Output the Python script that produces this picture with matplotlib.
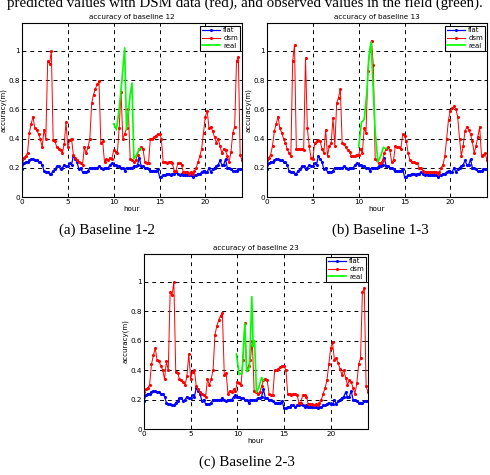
import numpy as np
import matplotlib.pyplot as plt

# time axis (hours), one sample every 0.2 h
hours = np.round(np.arange(121) * 0.2, 1)

# flat model prediction (same for all baselines)
flat = [0.19, 0.23, 0.24, 0.24, 0.25, 0.26, 0.26, 0.25, 0.25, 0.24,
        0.24, 0.22, 0.18, 0.17, 0.17, 0.16, 0.16, 0.18, 0.19, 0.21,
        0.21, 0.19, 0.20, 0.22, 0.21, 0.21, 0.23, 0.22, 0.28, 0.26,
        0.24, 0.19, 0.20, 0.17, 0.17, 0.17, 0.18, 0.20, 0.20, 0.20,
        0.20, 0.20, 0.21, 0.20, 0.19, 0.20, 0.20, 0.20, 0.22, 0.23,
        0.22, 0.22, 0.21, 0.21, 0.20, 0.20, 0.18, 0.20, 0.20, 0.20,
        0.20, 0.21, 0.21, 0.22, 0.27, 0.21, 0.21, 0.20, 0.20, 0.19,
        0.18, 0.18, 0.18, 0.18, 0.19, 0.14, 0.14, 0.15, 0.15, 0.16,
        0.16, 0.15, 0.16, 0.16, 0.17, 0.16, 0.15, 0.16, 0.15, 0.15,
        0.15, 0.15, 0.15, 0.14, 0.15, 0.15, 0.16, 0.16, 0.17, 0.18,
        0.17, 0.17, 0.20, 0.17, 0.19, 0.20, 0.21, 0.22, 0.25, 0.22,
        0.22, 0.26, 0.20, 0.20, 0.19, 0.18, 0.18, 0.18, 0.19, 0.19,
        0.19]

# DSM prediction, baselines 12 and 23
dsm_12 = [0.25, 0.27, 0.28, 0.30, 0.44, 0.50, 0.55, 0.47, 0.46, 0.43,
          0.40, 0.34, 0.46, 0.40, 0.93, 0.91, 1.00, 0.39, 0.38, 0.34,
          0.33, 0.32, 0.30, 0.36, 0.51, 0.34, 0.39, 0.40, 0.29, 0.27,
          0.25, 0.24, 0.23, 0.22, 0.34, 0.30, 0.34, 0.40, 0.64, 0.70,
          0.74, 0.77, 0.79, 0.37, 0.38, 0.24, 0.26, 0.25, 0.27, 0.26,
          0.32, 0.31, 0.30, 0.47, 0.72, 0.40, 0.43, 0.47, 0.60, 0.26,
          0.25, 0.24, 0.25, 0.29, 0.33, 0.34, 0.33, 0.24, 0.23, 0.23,
          0.40, 0.40, 0.41, 0.42, 0.43, 0.43, 0.40, 0.24, 0.24, 0.23,
          0.24, 0.24, 0.23, 0.18, 0.18, 0.23, 0.23, 0.22, 0.17, 0.17,
          0.17, 0.16, 0.17, 0.16, 0.18, 0.20, 0.24, 0.28, 0.33, 0.44,
          0.55, 0.59, 0.47, 0.48, 0.45, 0.41, 0.37, 0.40, 0.35, 0.30,
          0.33, 0.32, 0.28, 0.24, 0.31, 0.44, 0.48, 0.93, 0.96, 0.29,
          0.25]
dsm_23 = dsm_12

# DSM prediction, baseline 13
dsm_13 = [0.25, 0.27, 0.29, 0.35, 0.45, 0.50, 0.55, 0.47, 0.44, 0.40,
          0.37, 0.33, 0.30, 0.28, 0.93, 1.04, 0.33, 0.33, 0.33, 0.33,
          0.32, 0.95, 0.47, 0.35, 0.27, 0.26, 0.37, 0.38, 0.39, 0.38,
          0.33, 0.30, 0.46, 0.28, 0.35, 0.37, 0.54, 0.35, 0.64, 0.68,
          0.74, 0.37, 0.36, 0.34, 0.32, 0.31, 0.28, 0.28, 0.28, 0.29,
          0.29, 0.33, 0.30, 0.47, 0.44, 0.86, 1.00, 1.07, 0.90, 0.26,
          0.25, 0.23, 0.23, 0.25, 0.30, 0.33, 0.34, 0.32, 0.24, 0.25,
          0.35, 0.34, 0.34, 0.33, 0.43, 0.42, 0.38, 0.30, 0.25, 0.24,
          0.24, 0.23, 0.23, 0.20, 0.20, 0.18, 0.17, 0.17, 0.17, 0.17,
          0.17, 0.17, 0.17, 0.16, 0.17, 0.20, 0.22, 0.28, 0.40, 0.53,
          0.59, 0.61, 0.62, 0.60, 0.55, 0.40, 0.28, 0.35, 0.45, 0.48,
          0.46, 0.43, 0.38, 0.30, 0.35, 0.41, 0.48, 0.28, 0.29, 0.30,
          0.25]

# observed values in the field
real_12_h = [10.0, 10.3, 10.6, 10.9, 11.2, 11.4, 11.6, 11.8, 12.0, 12.2, 12.5, 12.8, 13.0]
real_12 = [0.50, 0.46, 0.60, 0.80, 1.02, 0.46, 0.58, 0.70, 0.78, 0.26, 0.29, 0.33, 0.33]
real_13_h = [10.0, 10.3, 10.6, 10.9, 11.1, 11.35, 11.6, 11.8, 12.1, 12.4, 12.7, 13.0]
real_13 = [0.34, 0.51, 0.53, 0.72, 0.95, 1.06, 0.72, 0.45, 0.24, 0.28, 0.34, 0.33]
real_23_h = [9.9, 10.2, 10.5, 10.8, 11.0, 11.3, 11.55, 11.7, 11.85, 12.05, 12.3, 12.6, 12.8]
real_23 = [0.51, 0.37, 0.38, 0.72, 0.39, 0.42, 0.90, 0.56, 0.60, 0.25, 0.28, 0.35, 0.33]

fig = plt.figure(figsize=(4.9, 4.75), dpi=100)

# top line of the caption (cut off in the page)
fig.text(0.5, 1 - 7 / 475, 'predicted values with DSM data (red), and observed values in the field (green).',
         ha='center', va='baseline', fontsize=10.8, family='Liberation Serif')

panels = [
    ([22, 23, 220, 174], dsm_12, real_12_h, real_12, '12', '(a) Baseline 1-2', 107),
    ([267, 23, 220, 174], dsm_13, real_13_h, real_13, '13', '(b) Baseline 1-3', 380),
    ([144, 254, 224, 175], dsm_23, real_23_h, real_23, '23', '(c) Baseline 2-3', 247),
]

for (px, py, pw, ph), dsm, rh, rv, name, cap, capx in panels:
    ax = fig.add_axes([px / 490, 1 - (py + ph) / 475, pw / 490, ph / 475])
    ax.plot(hours, flat, color='#0000ff', lw=0.9, marker='.', ms=2.5, label='flat')
    ax.plot(hours, dsm, color='#ff0000', lw=0.7, marker='.', ms=2.5, label='dsm')
    ax.plot(rh, rv, color='#00ff00', lw=1.2, label='real')
    ax.set_xlim(0, 24)
    ax.set_ylim(0, 1.19)
    ax.set_xticks([0, 5, 10, 15, 20])
    ax.set_yticks([0, 0.2, 0.4, 0.6, 0.8, 1])
    ax.set_yticklabels(['0', '0.2', '0.4', '0.6', '0.8', '1'])
    ax.tick_params(direction='in', labelsize=5.2, length=2.5, width=0.6,
                   top=True, right=True, pad=1.5)
    ax.grid(True, color='black', linestyle=(0, (4, 4)), linewidth=0.7)
    for s in ax.spines.values():
        s.set_linewidth(0.8)
    ax.set_title('accuracy of baseline ' + name, fontsize=5.2, pad=3)
    ax.set_xlabel('hour', fontsize=5.2, labelpad=1)
    ax.set_ylabel('accuracy(m)', fontsize=5, labelpad=1)
    leg = ax.legend(loc='upper right', bbox_to_anchor=(0.99, 0.985), fontsize=5,
                    handlelength=2.6, borderaxespad=0, fancybox=False, framealpha=1,
                    labelspacing=0.25, borderpad=0.25, handletextpad=0.5)
    leg.get_frame().set_edgecolor('black')
    leg.get_frame().set_linewidth(0.8)
    fig.text(capx / 490, 1 - (py + ph + 33) / 475, cap, ha='center', va='center',
             fontsize=10.8, family='Liberation Serif')

fig.savefig('out.png', dpi=100)
